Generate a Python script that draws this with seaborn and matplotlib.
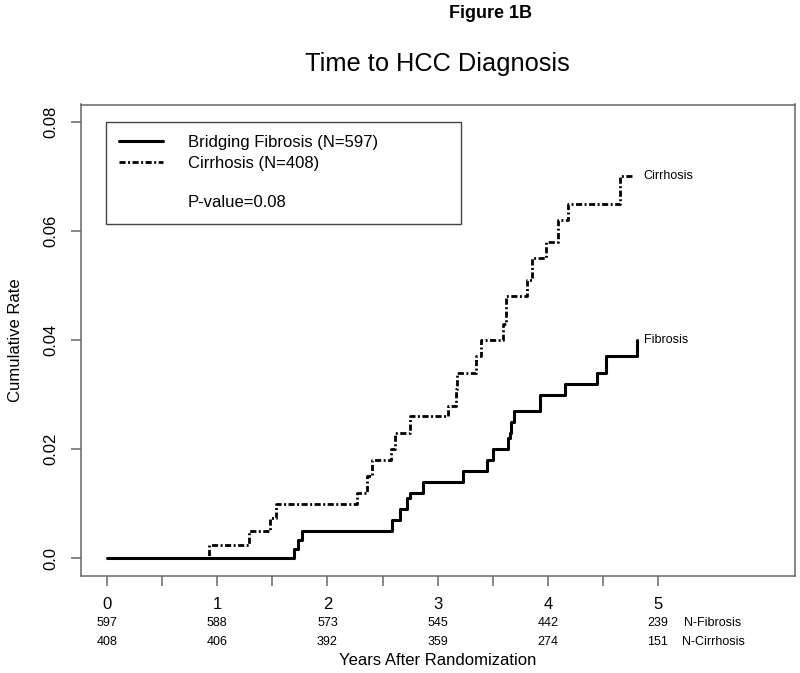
import numpy as np
import pandas as pd
import matplotlib
matplotlib.use('Agg')
import matplotlib.pyplot as plt
import seaborn as sns
from matplotlib.lines import Line2D
from matplotlib.transforms import blended_transform_factory

# Kaplan-Meier style cumulative rates
fib_years = [0, 1.70, 1.73, 1.77, 2.59, 2.66, 2.72, 2.75, 2.87, 3.23, 3.45, 3.50,
             3.64, 3.66, 3.67, 3.69, 3.93, 4.16, 4.45, 4.53, 4.81]
fib_rate = [0, 0.0017, 0.0034, 0.005, 0.007, 0.009, 0.011, 0.012, 0.014, 0.016, 0.018, 0.020,
            0.022, 0.023, 0.025, 0.027, 0.030, 0.032, 0.034, 0.037, 0.040]

cir_years = [0, 0.925, 1.29, 1.48, 1.53, 2.27, 2.36, 2.40, 2.58, 2.61, 2.75, 3.09, 3.17, 3.18,
             3.35, 3.39, 3.59, 3.62, 3.81, 3.86, 3.98, 4.09, 4.18, 4.66, 4.78]
cir_rate = [0, 0.0025, 0.005, 0.0074, 0.010, 0.012, 0.015, 0.018, 0.020, 0.023, 0.026, 0.028, 0.031, 0.034,
            0.037, 0.040, 0.043, 0.048, 0.051, 0.055, 0.058, 0.062, 0.065, 0.070, 0.070]

# numbers at risk
risk_years = [0, 1, 2, 3, 4, 5]
risk_fib = [597, 588, 573, 545, 442, 239]
risk_cir = [408, 406, 392, 359, 274, 151]

df_fib = pd.DataFrame({'years': fib_years, 'rate': fib_rate})
df_cir = pd.DataFrame({'years': cir_years, 'rate': cir_rate})

sns.set_style("white", {'text.color': 'black', 'axes.labelcolor': 'black',
                        'axes.edgecolor': '#666666'})
plt.rcParams['font.family'] = ['Liberation Sans', 'DejaVu Sans']

dashdot = (0, (2.2, 0.9, 0.7, 0.9))

fig, ax = plt.subplots(figsize=(8, 6.73), dpi=100)
fig.subplots_adjust(left=80.7 / 800, right=794.5 / 800, top=1 - 104.5 / 673, bottom=1 - 575.7 / 673)

sns.lineplot(data=df_cir, x='years', y='rate', drawstyle='steps-post', color='black',
             lw=2.0, linestyle=dashdot, estimator=None, ax=ax, legend=False)
sns.lineplot(data=df_fib, x='years', y='rate', drawstyle='steps-post', color='black',
             lw=2.2, estimator=None, ax=ax, legend=False)

ax.set_xlim(-0.24, 6.24)
ax.set_ylim(-0.0032, 0.0832)

yt = [0, 0.02, 0.04, 0.06, 0.08]
ax.set_yticks(yt)
ax.set_yticklabels(['0.0', '0.02', '0.04', '0.06', '0.08'], rotation=90, va='center')
xt = np.arange(0, 5.01, 0.5)
ax.set_xticks(xt)
ax.set_xticklabels([str(int(v)) if v == int(v) else '' for v in xt])
ax.tick_params(axis='both', direction='out', length=7, width=1.1, color='#666666',
               labelcolor='black', labelsize=12, left=True, bottom=True)
ax.tick_params(axis='x', pad=8)
ax.tick_params(axis='y', pad=9)
for s in ax.spines.values():
    s.set_linewidth(1.1)
    s.set_color('#666666')

# numbers at risk below the axis
tr = blended_transform_factory(ax.transData, ax.transAxes)
for x, a, b in zip(risk_years, risk_fib, risk_cir):
    ax.text(x, -0.101, str(a), transform=tr, ha='center', va='center', fontsize=9)
    ax.text(x, -0.140, str(b), transform=tr, ha='center', va='center', fontsize=9)
ax.text(5.5, -0.101, 'N-Fibrosis', transform=tr, ha='center', va='center', fontsize=9)
ax.text(5.5, -0.140, 'N-Cirrhosis', transform=tr, ha='center', va='center', fontsize=9)

ax.set_xlabel('Years After Randomization', fontsize=12)
ax.xaxis.set_label_coords(0.5, -0.179)
ax.xaxis.label.set_va('center')
ax.set_ylabel('Cumulative Rate', fontsize=12)
ax.yaxis.set_label_coords(-0.092, 0.5)
ax.yaxis.label.set_va('center')

# curve end labels
ax.text(cir_years[-1] + 0.09, cir_rate[-1], 'Cirrhosis', va='center', fontsize=9)
ax.text(fib_years[-1] + 0.06, fib_rate[-1], 'Fibrosis', va='center', fontsize=9)

handles = [Line2D([], [], color='black', lw=2.2),
           Line2D([], [], color='black', lw=2.0, linestyle=dashdot),
           Line2D([], [], alpha=0),
           Line2D([], [], alpha=0)]
labels = ['Bridging Fibrosis (N=597)', 'Cirrhosis (N=408)', ' ', 'P-value=0.08']
leg = ax.legend(handles, labels, loc='upper left', bbox_to_anchor=(0.0354, 0.5, 0.497, 0.4635),
                mode='expand', borderaxespad=0, fontsize=12, handlelength=2.6,
                handletextpad=1.5, labelspacing=0.33, borderpad=0.8,
                frameon=True, fancybox=False, framealpha=1, edgecolor='#444444')
leg.get_frame().set_linewidth(1.0)
leg.get_texts()[2].set_fontsize(8)

ax.set_title('Time to HCC Diagnosis', fontsize=18.3, pad=24)
fig.text(490 / 800, 1 - 18.3 / 673, 'Figure 1B', ha='center', va='baseline',
         fontsize=13, fontweight='bold')

fig.savefig('out.png', dpi=100)
